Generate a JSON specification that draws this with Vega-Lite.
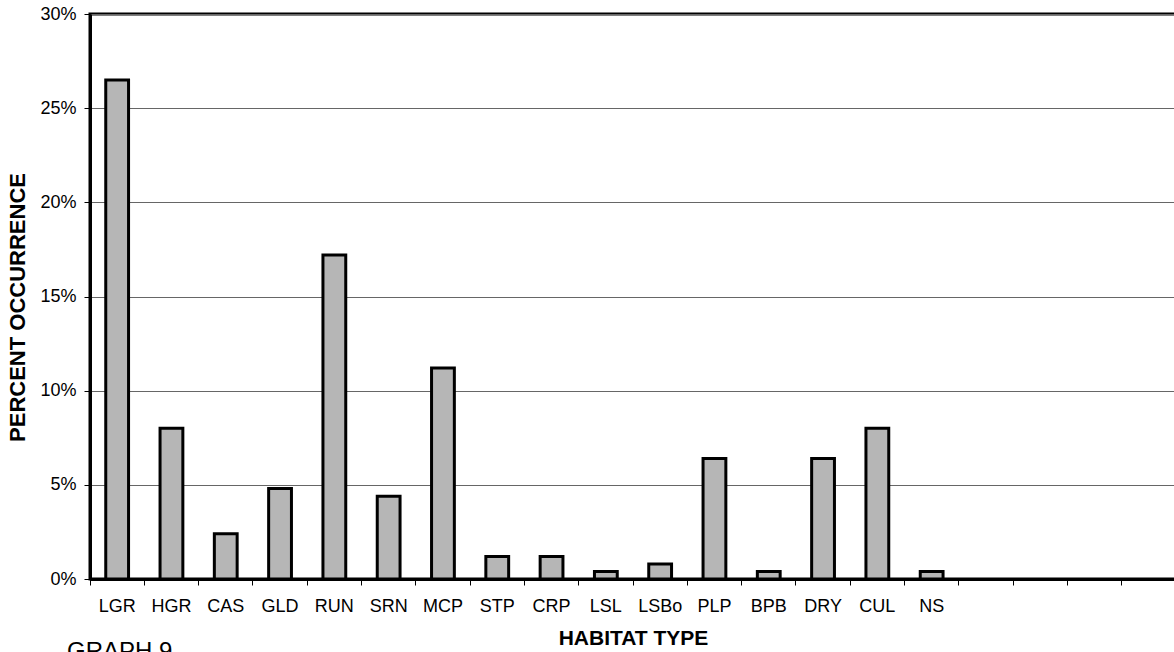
{
  "$schema": "https://vega.github.io/schema/vega-lite/v6.json",
  "width": 1086,
  "height": 565,
  "autosize": "none",
  "padding": {"left": 90, "top": 14, "right": 0, "bottom": 73},
  "background": "white",
  "title": {"text": "GRAPH 9", "orient": "bottom", "anchor": "start", "frame": "group", "dx": -23, "offset": -8, "font": "Liberation Sans", "fontSize": 24, "fontWeight": "normal", "color": "black"},
  "config": {
    "view": {"stroke": "black", "strokeWidth": 3},
    "font": "Liberation Sans"
  },
  "data": {"values": [
    {"habitat": "LGR", "pct": 26.5},
    {"habitat": "HGR", "pct": 8.0},
    {"habitat": "CAS", "pct": 2.4},
    {"habitat": "GLD", "pct": 4.8},
    {"habitat": "RUN", "pct": 17.2},
    {"habitat": "SRN", "pct": 4.4},
    {"habitat": "MCP", "pct": 11.2},
    {"habitat": "STP", "pct": 1.2},
    {"habitat": "CRP", "pct": 1.2},
    {"habitat": "LSL", "pct": 0.4},
    {"habitat": "LSBo", "pct": 0.8},
    {"habitat": "PLP", "pct": 6.4},
    {"habitat": "BPB", "pct": 0.4},
    {"habitat": "DRY", "pct": 6.4},
    {"habitat": "CUL", "pct": 8.0},
    {"habitat": "NS", "pct": 0.4}
  ]},
  "mark": {"type": "bar", "fill": "#b6b6b6", "stroke": "black", "strokeWidth": 3, "width": {"band": 0.42}},
  "encoding": {
    "x": {
      "field": "habitat", "type": "nominal", "sort": null,
      "scale": {"domain": ["LGR","HGR","CAS","GLD","RUN","SRN","MCP","STP","CRP","LSL","LSBo","PLP","BPB","DRY","CUL","NS","_1","_2","_3","_4"], "paddingInner": 0, "paddingOuter": 0},
      "axis": {
        "title": "HABITAT TYPE", "titleFontSize": 21, "titleFontWeight": "bold", "titleColor": "black", "titlePadding": 12,
        "labelAngle": 0, "labelFontSize": 18, "labelColor": "black", "labelPadding": 12,
        "labelExpr": "indexof(datum.value, '_') == 0 ? '' : datum.value",
        "bandPosition": 0,
        "tickColor": "black", "tickSize": 6, "tickWidth": 1,
        "domainColor": "black", "domainWidth": 3, "grid": false
      }
    },
    "y": {
      "field": "pct", "type": "quantitative",
      "scale": {"domain": [0, 30], "nice": false},
      "axis": {
        "title": "PERCENT OCCURRENCE", "titleFontSize": 22, "titleFontWeight": "bold", "titleColor": "black", "titlePadding": 10, "titleY": 293,
        "values": [0, 5, 10, 15, 20, 25, 30],
        "labelExpr": "datum.value + '%'",
        "labelFontSize": 18, "labelColor": "black", "labelPadding": 8,
        "tickColor": "black", "tickSize": 6, "tickWidth": 1,
        "domainColor": "black", "domainWidth": 3,
        "grid": true, "gridColor": "#666666", "gridWidth": 1
      }
    }
  }
}
